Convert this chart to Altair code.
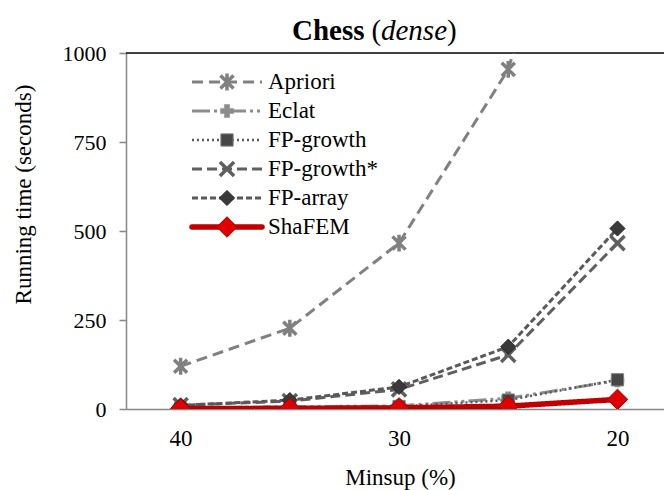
import altair as alt
import pandas as pd

# ---- data ----
minsup = [40, 35, 30, 25, 20]
series_names = ["Apriori", "Eclat", "FP-growth", "FP-growth*", "FP-array", "ShaFEM"]
apriori = [120, 227, 466, 954, 1980]
eclat = [3, 6, 9, 30, 80]
fpgrowth = [2, 4, 7, 25, 82]
fpgrowth_star = [11, 22, 55, 152, 466]
fparray = [10, 25, 62, 175, 507]
shafem = [1, 2, 3, 8, 27]
y_ticks = [0, 250, 500, 750, 1000]
x_ticks = [40, 30, 20]
top_line = [1000]

values = {
    "Apriori": apriori,
    "Eclat": eclat,
    "FP-growth": fpgrowth,
    "FP-growth*": fpgrowth_star,
    "FP-array": fparray,
    "ShaFEM": shafem,
}

rows = []
for name in series_names:
    for m, v in zip(minsup, values[name]):
        rows.append({"series": name, "minsup": m, "value": v})
df = pd.DataFrame(rows)

# ---- styles ----
STAR = "M-1,-1L1,1M1,-1L-1,1M0,-1.3L0,1.3"
XSHAPE = "M-1,-1L1,1M1,-1L-1,1"
styles = {
    "Apriori": dict(color="#808080", width=3, dash=[11, 6], shape=STAR, filled=False,
                    mstroke="#808080", msw=3.5, size=170, mfill="#808080"),
    "Eclat": dict(color="#8c8c8c", width=3, dash=[18, 4, 3, 4, 3, 4], shape="cross", filled=True,
                  mstroke="#8c8c8c", msw=0.5, size=170, mfill="#8c8c8c"),
    "FP-growth": dict(color="#595959", width=2.5, dash=[2, 3], shape="square", filled=True,
                      mstroke="#7f7f7f", msw=1, size=150, mfill="#474747"),
    "FP-growth*": dict(color="#5f5f5f", width=3, dash=[10, 5], shape=XSHAPE, filled=False,
                       mstroke="#5f5f5f", msw=3.5, size=200, mfill="#5f5f5f"),
    "FP-array": dict(color="#595959", width=3, dash=[6, 3], shape="diamond", filled=True,
                     mstroke="#2a2a2a", msw=1, size=230, mfill="#3a3a3a"),
    "ShaFEM": dict(color="#c00000", width=5.5, dash=[1, 0], shape="diamond", filled=True,
                   mstroke="#a00000", msw=1, size=420, mfill="#e00000"),
}

FONT = "Liberation Serif, Times New Roman, Times, serif"
W, H = 538, 356

xscale = alt.Scale(domain=[42.5, 17.87], nice=False, zero=False)
yscale = alt.Scale(domain=[0, 1000], nice=False)

x_axis = alt.Axis(values=x_ticks, format="d", ticks=False, grid=False, labelFlush=False,
                  labelFont=FONT, labelFontSize=23, labelColor="black",
                  labelBaseline="middle", labelPadding=29,
                  domainColor="#868686", domainWidth=1.5,
                  title="Minsup (%)", titleFont=FONT, titleFontSize=23,
                  titleFontWeight="normal", titleColor="black",
                  titleX=274, titleY=68, titleAlign="center", titleBaseline="middle")
y_axis = alt.Axis(values=y_ticks, format="d", grid=False, labelFont=FONT, labelFontSize=22,
                  labelColor="black", labelPadding=13, tickSize=7, tickWidth=1.5,
                  tickColor="#868686", domainColor="#868686", domainWidth=1.5,
                  title="Running time (seconds)", titleFont=FONT, titleFontSize=23,
                  titleFontWeight="normal", titleColor="black", titleAngle=-90,
                  titleX=-103, titleY=141, titleAlign="center", titleBaseline="middle")

x_enc = alt.X("minsup:Q", scale=xscale, axis=x_axis)
y_enc = alt.Y("value:Q", scale=yscale, axis=y_axis)

base = alt.Chart(df)
main_layers = [
    alt.Chart(pd.DataFrame({"value": top_line})).mark_rule(color="black", strokeWidth=1.5)
    .encode(y=y_enc)
]
for name in series_names:
    s = styles[name]
    sub = base.transform_filter(alt.datum.series == name)
    line = sub.mark_line(color=s["color"], strokeWidth=s["width"], strokeDash=s["dash"],
                         clip=True).encode(x=x_enc, y=y_enc)
    pt = sub.mark_point(shape=s["shape"], filled=s["filled"], fill=s["mfill"] if s["filled"] else None,
                        stroke=s["mstroke"], strokeWidth=s["msw"], size=s["size"],
                        opacity=1, clip=True).encode(x=x_enc, y=y_enc)
    main_layers += [line, pt]

main = alt.layer(*main_layers)

# ---- hand-built legend (line sample + marker + label) ----
leg_df = pd.DataFrame({"series": series_names, "row": list(range(len(series_names)))})
leg_scale = alt.Scale(domain=[0, 5], range=[29, 174])
leg_layers = []
for name in series_names:
    s = styles[name]
    ld = alt.Chart(leg_df).transform_filter(alt.datum.series == name)
    ly = alt.Y("row:Q", scale=leg_scale, axis=None)
    leg_layers.append(ld.mark_rule(color=s["color"], strokeWidth=s["width"], strokeDash=s["dash"],
                                   strokeCap="round" if name == "ShaFEM" else "butt")
                      .encode(x=alt.value(66), x2=alt.value(136), y=ly))
    leg_layers.append(ld.mark_point(shape=s["shape"], filled=s["filled"],
                                    fill=s["mfill"] if s["filled"] else None,
                                    stroke=s["mstroke"], strokeWidth=s["msw"], size=s["size"],
                                    opacity=1).encode(x=alt.value(101), y=ly))
    leg_layers.append(ld.mark_text(align="left", baseline="middle", font=FONT, fontSize=23,
                                   color="black").encode(x=alt.value(142), y=ly, text="series:N"))
legend = alt.layer(*leg_layers)

# ---- title: bold "Chess" + "(" italic "dense" ")" ----
title_df = pd.DataFrame({"t": ["Chess", "(", "dense", ")"]})
TY = -13
title_layers = [
    alt.Chart(title_df).transform_filter(alt.datum.t == "Chess")
    .mark_text(align="left", baseline="alphabetic", font=FONT, fontSize=29, fontWeight="bold", color="black")
    .encode(x=alt.value(166), y=alt.value(TY), text="t:N"),
    alt.Chart(title_df).transform_filter(alt.datum.t == "(")
    .mark_text(align="left", baseline="alphabetic", font=FONT, fontSize=29, color="black")
    .encode(x=alt.value(245.5), y=alt.value(TY), text="t:N"),
    alt.Chart(title_df).transform_filter(alt.datum.t == "dense")
    .mark_text(align="left", baseline="alphabetic", font=FONT, fontSize=29, fontStyle="italic", color="black")
    .encode(x=alt.value(255), y=alt.value(TY), text="t:N"),
    alt.Chart(title_df).transform_filter(alt.datum.t == ")")
    .mark_text(align="left", baseline="alphabetic", font=FONT, fontSize=29, color="black")
    .encode(x=alt.value(321), y=alt.value(TY), text="t:N"),
]
titles = alt.layer(*title_layers)

chart = (
    alt.layer(main, legend, titles)
    .resolve_scale(y="independent")
    .properties(width=W, height=H, padding={"left": 126, "top": 53, "right": 0, "bottom": 81},
                autosize=alt.AutoSizeParams(type="none"), background="white")
    .configure_view(stroke=None)
)

chart.save("out.html", embed_options={"renderer": "svg", "actions": False})
